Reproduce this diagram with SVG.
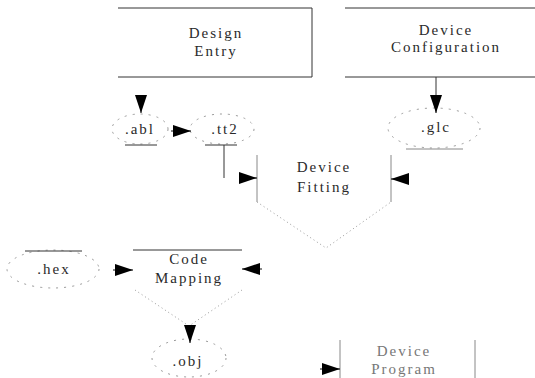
<svg xmlns="http://www.w3.org/2000/svg" width="535" height="378" viewBox="0 0 535 378">
  <style>
    .lbl { font-family: "Liberation Serif", "DejaVu Serif", serif; font-size: 15px; fill: #2a2a2a; text-anchor: middle; letter-spacing: 2px; }
    .faint { fill: #777; }
    .edge { stroke: #333; stroke-width: 1; fill: none; }
    .soft { stroke: #888; stroke-width: 1; fill: none; }
    .file { stroke: #999; stroke-width: 1; fill: none; stroke-dasharray: 2 6; }
    .fork { stroke: #999; stroke-width: 1; fill: none; stroke-dasharray: 1 3; }
    .link { stroke: #111; stroke-width: 1; fill: none; marker-end: url(#head); }
  </style>
  <defs>
    <marker id="head" markerUnits="userSpaceOnUse" markerWidth="18" markerHeight="12" refX="18" refY="6" orient="auto">
      <polygon points="0,0 18,6 0,12" fill="#000"/>
    </marker>
  </defs>
  <rect width="535" height="378" fill="#fff"/>

  <g id="design-entry">
    <path class="edge" d="M118,8 H312 V77 H118"/>
    <text class="lbl" x="216" y="38">Design</text>
    <text class="lbl" x="216" y="56">Entry</text>
  </g>

  <g id="device-configuration">
    <path class="edge" d="M345,8 H535 M345,77 H535"/>
    <text class="lbl" x="446" y="35">Device</text>
    <text class="lbl" x="446" y="52">Configuration</text>
  </g>

  <g id="abl">
    <ellipse class="file" cx="140" cy="129" rx="28" ry="15"/>
    <path class="edge" d="M125,145 H157"/>
    <text class="lbl" x="140" y="134">.abl</text>
  </g>

  <g id="tt2">
    <ellipse class="file" cx="222" cy="129" rx="32" ry="15"/>
    <path class="edge" d="M205,145 H237"/>
    <text class="lbl" x="225" y="134">.tt2</text>
  </g>

  <g id="glc">
    <ellipse class="file" cx="434" cy="128" rx="46" ry="20"/>
    <path class="soft" d="M406,149 H463"/>
    <text class="lbl" x="436" y="132">.glc</text>
  </g>

  <g id="device-fitting">
    <path class="soft" d="M257,155 V202 M391,155 V202"/>
    <path class="fork" d="M257,202 L326,248 L391,202"/>
    <text class="lbl" x="324" y="172">Device</text>
    <text class="lbl" x="324" y="192">Fitting</text>
  </g>

  <g id="hex">
    <ellipse class="file" cx="53" cy="269" rx="46" ry="19"/>
    <path class="edge" d="M25,251 H82"/>
    <text class="lbl" x="54" y="274">.hex</text>
  </g>

  <g id="code-mapping">
    <path class="edge" d="M133,250 H242"/>
    <path class="fork" d="M135,290 L189,326 L242,290"/>
    <text class="lbl" x="189" y="264">Code</text>
    <text class="lbl" x="189" y="283">Mapping</text>
  </g>

  <g id="obj">
    <ellipse class="file" cx="189" cy="358" rx="37" ry="19"/>
    <text class="lbl" x="188" y="366">.obj</text>
  </g>

  <g id="device-program">
    <path class="soft" d="M340,340 V378 M475,340 V378"/>
    <text class="lbl faint" x="404" y="356">Device</text>
    <text class="lbl faint" x="404" y="374">Program</text>
  </g>

  <g id="connectors">
    <line class="link" x1="141" y1="100" x2="141" y2="113"/>
    <line class="link" x1="171" y1="131" x2="191" y2="131"/>
    <path class="edge" d="M224,145 V178"/>
    <line class="link" x1="239" y1="178" x2="257" y2="178"/>
    <line class="edge" x1="436" y1="77" x2="436" y2="98"/>
    <line class="link" x1="436" y1="96" x2="436" y2="113"/>
    <line class="link" x1="409" y1="179" x2="391" y2="179"/>
    <line class="link" x1="113" y1="270" x2="133" y2="270"/>
    <line class="link" x1="262" y1="269" x2="242" y2="269"/>
    <line class="link" x1="190" y1="329" x2="190" y2="343"/>
    <line class="link" x1="320" y1="369" x2="340" y2="369"/>
  </g>
</svg>
